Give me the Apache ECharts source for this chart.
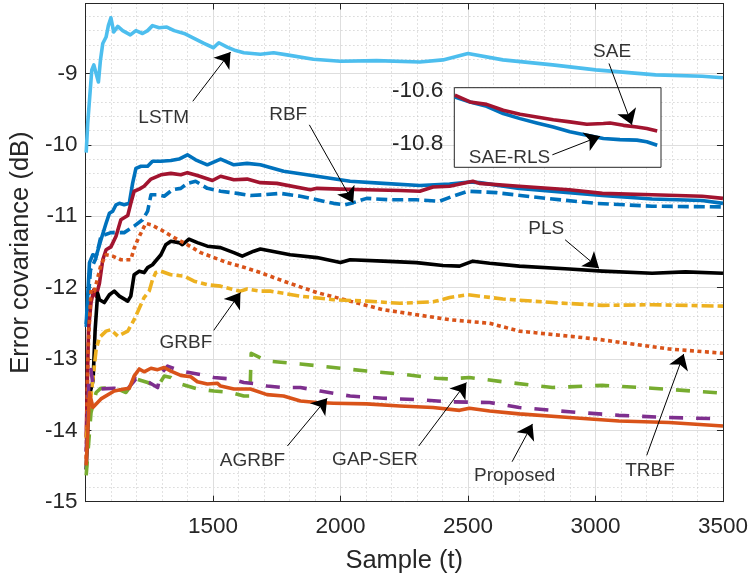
<!DOCTYPE html>
<html>
<head>
<meta charset="utf-8">
<script src="https://cdn.jsdelivr.net/npm/echarts@6/dist/echarts.min.js"></script>
<style>
html,body{margin:0;padding:0;background:#fff;}
#chart{width:751px;height:582px;}
</style>
</head>
<body>
<div id="chart"></div>
<script>
// ---------------- data (Sample t, Error covariance dB) ----------------
const xTicks = [1500, 2000, 2500, 3000, 3500];
const yTicks = [-15, -14, -13, -12, -11, -10, -9];
const insetYTicks = [-10.6, -10.8];

const seriesNames = ['LSTM', 'RBF', 'SAE-RLS', 'SAE', 'PLS', 'TRBF', 'GRBF', 'GAP-SER', 'AGRBF', 'Proposed'];

const LSTM = [[1003,-10.11],[1009,-9.7],[1016,-9.68],[1025,-8.95],[1033,-8.88],[1042,-9.0],[1051,-9.12],[1059,-8.81],[1068,-8.58],[1081,-8.49],[1090,-8.33],[1100,-8.22],[1111,-8.42],[1127,-8.34],[1146,-8.40],[1176,-8.46],[1198,-8.40],[1224,-8.44],[1244,-8.40],[1263,-8.33],[1289,-8.36],[1319,-8.35],[1348,-8.40],[1387,-8.44],[1426,-8.51],[1465,-8.58],[1502,-8.64],[1523,-8.57],[1556,-8.63],[1589,-8.68],[1621,-8.71],[1686,-8.73],[1738,-8.71],[1790,-8.74],[1894,-8.80],[2000,-8.83],[2142,-8.82],[2311,-8.84],[2402,-8.81],[2500,-8.72],[2637,-8.81],[2832,-8.88],[3001,-8.95],[3236,-9.02],[3418,-9.04],[3500,-9.06]];

const SAE_RLS = [[1003,-12.51],[1016,-11.65],[1029,-11.54],[1042,-11.56],[1061,-11.33],[1081,-11.10],[1094,-10.96],[1107,-10.93],[1120,-10.84],[1133,-10.82],[1152,-10.84],[1172,-10.82],[1185,-10.54],[1198,-10.33],[1218,-10.30],[1244,-10.30],[1263,-10.23],[1296,-10.23],[1335,-10.22],[1367,-10.20],[1400,-10.14],[1432,-10.21],[1478,-10.28],[1530,-10.20],[1582,-10.28],[1634,-10.26],[1686,-10.28],[1777,-10.37],[1908,-10.44],[2038,-10.51],[2168,-10.54],[2311,-10.57],[2428,-10.55],[2506,-10.52],[2545,-10.53],[2701,-10.61],[2897,-10.67],[3027,-10.71],[3222,-10.76],[3418,-10.78],[3500,-10.82]];

const SAE = [[1003,-14.1],[1012,-12.6],[1022,-12.21],[1033,-12.03],[1042,-12.12],[1055,-11.94],[1068,-11.61],[1081,-11.47],[1100,-11.43],[1120,-11.28],[1139,-11.05],[1166,-10.99],[1178,-10.82],[1191,-10.65],[1211,-10.62],[1230,-10.58],[1257,-10.48],[1296,-10.42],[1335,-10.40],[1374,-10.42],[1400,-10.39],[1439,-10.43],[1498,-10.50],[1530,-10.44],[1582,-10.49],[1634,-10.48],[1686,-10.53],[1751,-10.54],[1882,-10.63],[1908,-10.61],[2000,-10.62],[2103,-10.63],[2233,-10.64],[2311,-10.65],[2363,-10.59],[2428,-10.58],[2519,-10.51],[2545,-10.54],[2701,-10.58],[2897,-10.63],[3027,-10.68],[3222,-10.70],[3418,-10.72],[3500,-10.75]];

const RBF = [[1003,-12.55],[1020,-11.75],[1040,-11.6],[1061,-11.28],[1100,-11.23],[1152,-11.23],[1191,-11.14],[1224,-11.05],[1244,-10.93],[1257,-10.70],[1283,-10.70],[1309,-10.72],[1341,-10.63],[1374,-10.61],[1400,-10.54],[1432,-10.51],[1478,-10.61],[1530,-10.65],[1595,-10.68],[1647,-10.71],[1699,-10.70],[1764,-10.68],[1843,-10.72],[1908,-10.77],[1973,-10.82],[2018,-10.84],[2051,-10.81],[2103,-10.75],[2194,-10.77],[2298,-10.77],[2389,-10.79],[2441,-10.72],[2500,-10.65],[2611,-10.67],[2806,-10.75],[3001,-10.82],[3222,-10.86],[3500,-10.87]];

const PLS = [[1003,-14.55],[1010,-13.9],[1020,-13.45],[1030,-13.3],[1038,-12.6],[1048,-12.08],[1055,-12.17],[1074,-12.21],[1094,-12.10],[1113,-12.05],[1133,-12.12],[1166,-12.19],[1178,-12.12],[1191,-11.82],[1211,-11.77],[1230,-11.79],[1244,-11.72],[1263,-11.68],[1296,-11.54],[1315,-11.40],[1335,-11.35],[1367,-11.37],[1380,-11.40],[1406,-11.32],[1439,-11.37],[1478,-11.42],[1530,-11.44],[1582,-11.51],[1615,-11.56],[1660,-11.49],[1686,-11.46],[1803,-11.54],[1908,-11.58],[2000,-11.65],[2038,-11.61],[2168,-11.63],[2298,-11.65],[2402,-11.69],[2467,-11.70],[2519,-11.63],[2585,-11.66],[2701,-11.70],[2897,-11.74],[3027,-11.77],[3222,-11.80],[3353,-11.78],[3500,-11.80]];

const TRBF = [[1003,-14.4],[1010,-12.9],[1022,-12.03],[1035,-12.05],[1061,-11.68],[1081,-11.54],[1107,-11.56],[1139,-11.61],[1178,-11.61],[1191,-11.45],[1205,-11.33],[1224,-11.19],[1237,-11.10],[1257,-11.12],[1296,-11.19],[1348,-11.30],[1400,-11.40],[1452,-11.51],[1504,-11.58],[1556,-11.65],[1608,-11.70],[1686,-11.79],[1777,-11.91],[1908,-12.07],[2038,-12.19],[2168,-12.31],[2298,-12.38],[2428,-12.45],[2585,-12.50],[2701,-12.61],[3001,-12.72],[3288,-12.86],[3500,-12.92]];

const GRBF = [[1003,-14.12],[1035,-13.1],[1042,-12.87],[1055,-12.70],[1081,-12.61],[1100,-12.59],[1127,-12.68],[1166,-12.61],[1191,-12.45],[1230,-12.14],[1250,-12.05],[1263,-11.89],[1276,-11.79],[1296,-11.77],[1335,-11.82],[1387,-11.84],[1426,-11.91],[1478,-11.96],[1530,-11.98],[1582,-12.03],[1608,-12.05],[1634,-12.02],[1686,-12.05],[1725,-12.05],[1843,-12.12],[1973,-12.17],[2103,-12.19],[2233,-12.22],[2363,-12.20],[2428,-12.14],[2500,-12.10],[2637,-12.16],[2832,-12.21],[3027,-12.25],[3222,-12.24],[3500,-12.26]];

const GAP_SER = [[1003,-14.63],[1022,-13.75],[1042,-13.47],[1061,-13.41],[1113,-13.40],[1159,-13.47],[1198,-13.28],[1244,-13.33],[1283,-13.39],[1309,-13.24],[1335,-13.26],[1374,-13.35],[1439,-13.42],[1504,-13.45],[1569,-13.47],[1621,-13.52],[1645,-13.52],[1650,-12.92],[1712,-13.03],[1843,-13.07],[1973,-13.12],[2103,-13.17],[2233,-13.21],[2376,-13.27],[2428,-13.28],[2506,-13.26],[2637,-13.32],[2832,-13.40],[3027,-13.37],[3222,-13.41],[3500,-13.48]];

const AGRBF = [[1003,-14.3],[1015,-13.2],[1022,-13.15],[1030,-13.38],[1061,-13.42],[1113,-13.41],[1159,-13.45],[1198,-13.28],[1250,-13.33],[1283,-13.40],[1296,-13.21],[1322,-13.10],[1374,-13.17],[1439,-13.21],[1504,-13.26],[1569,-13.28],[1621,-13.33],[1673,-13.35],[1712,-13.38],[1777,-13.40],[1843,-13.40],[1921,-13.45],[2038,-13.52],[2168,-13.55],[2298,-13.57],[2428,-13.60],[2585,-13.61],[2701,-13.68],[2897,-13.74],[3092,-13.79],[3288,-13.82],[3500,-13.84]];

const PROPOSED = [[1003,-14.49],[1016,-13.47],[1029,-13.68],[1061,-13.56],[1113,-13.45],[1152,-13.42],[1172,-13.41],[1191,-13.24],[1211,-13.14],[1230,-13.18],[1257,-13.13],[1283,-13.15],[1309,-13.12],[1335,-13.17],[1374,-13.23],[1413,-13.25],[1439,-13.32],[1478,-13.35],[1517,-13.34],[1530,-13.38],[1582,-13.42],[1647,-13.42],[1712,-13.50],[1777,-13.52],[1843,-13.59],[1908,-13.61],[1973,-13.62],[2103,-13.63],[2233,-13.66],[2363,-13.68],[2467,-13.72],[2506,-13.69],[2585,-13.73],[2701,-13.77],[2897,-13.82],[3092,-13.87],[3288,-13.89],[3500,-13.94]];

// inset (zoom of SAE / SAE-RLS tail)
const INSET_SAE = [[2802,-10.618],[2854,-10.643],[2911,-10.652],[2968,-10.674],[3026,-10.689],[3083,-10.699],[3140,-10.709],[3197,-10.717],[3255,-10.726],[3312,-10.723],[3335,-10.721],[3381,-10.730],[3427,-10.736],[3461,-10.742],[3497,-10.751]];
const INSET_SAE_RLS = [[2802,-10.625],[2854,-10.643],[2911,-10.659],[2968,-10.686],[3026,-10.705],[3083,-10.721],[3140,-10.736],[3197,-10.754],[3255,-10.767],[3312,-10.779],[3369,-10.783],[3427,-10.785],[3461,-10.791],[3497,-10.804]];

// annotations (label text, label anchor, arrow tail, arrow tip) in data units
const annoText = ['LSTM', 'RBF', 'PLS', 'GRBF', 'AGRBF', 'GAP-SER', 'Proposed', 'TRBF'];
const annoAt   = [[1307,-9.62],[1795,-9.58],[2807,-11.17],[1394,-12.78],[1655,-14.43],[2135,-14.41],[2683,-14.63],[3214,-14.56]];
const annoFrom = [[1421,-9.39],[1878,-9.72],[2881,-11.33],[1503,-12.60],[1792,-14.22],[2307,-14.22],[2673,-14.44],[3201,-14.35]];
const annoTip  = [[1569,-8.70],[2050,-10.81],[3014,-11.73],[1608,-12.07],[1948,-13.55],[2494,-13.33],[2753,-13.91],[3346,-12.93]];
// annotations of the inset (drawn on the main axes)
const insetAnnoText = ['SAE', 'SAE-RLS'];
const insetAnnoAt   = [[3065,-8.69],[2663,-10.18]];
const insetAnnoFrom = [[3053,-8.86],[2831,-10.14]];
const insetAnnoTip  = [[3143,-9.72],[3018,-9.88]];

// ---------------- chart ----------------
const FONT = '"Liberation Sans", Arial, Helvetica, sans-serif';
const AX = '#262626';
const LW = 3.6;
const C = {blue:'#0072BD', orange:'#D95319', yellow:'#EDB120', purple:'#7E2F8E', green:'#77AC30', cyan:'#4DBEEE', red:'#A2142F', black:'#000000'};

function lineSeries(name, data, color, type, xi, yi, z) {
  return {
    name: name, type: 'line', data: data, xAxisIndex: xi || 0, yAxisIndex: yi || 0,
    showSymbol: false, symbol: 'none', animation: false, z: z || 3,
    lineStyle: {color: color, width: LW, type: type || 'solid', cap: 'butt', join: 'round'}
  };
}

const allText = annoText.concat(insetAnnoText);
const allAt = annoAt.concat(insetAnnoAt);
const allFrom = annoFrom.concat(insetAnnoFrom);
const allTip = annoTip.concat(insetAnnoTip);

const chart = echarts.init(document.getElementById('chart'), null, {renderer: 'canvas'});

const mainX = {
  type: 'value', gridIndex: 0, min: 1000, max: 3500, interval: 500,
  axisLine: {show: true, lineStyle: {color: AX, width: 1}},
  axisTick: {show: true, inside: true, length: 6, lineStyle: {color: AX}},
  axisLabel: {color: AX, fontSize: 22.5, fontFamily: FONT, margin: 14,
    formatter: v => (xTicks.indexOf(v) >= 0 ? String(v) : '')},
  splitLine: {show: true, lineStyle: {color: '#dedede', width: 1}},
  minorTick: {show: false, splitNumber: 5},
  minorSplitLine: {show: true, lineStyle: {color: '#c4c4c4', width: 1, type: [1, 3]}},
  name: 'Sample (t)', nameLocation: 'middle', nameGap: 46,
  nameTextStyle: {color: AX, fontSize: 25.5, fontFamily: FONT}
};
const topX = {
  type: 'value', gridIndex: 0, min: 1000, max: 3500, interval: 500, position: 'top',
  axisLine: {show: true, lineStyle: {color: AX, width: 1}},
  axisTick: {show: true, inside: true, length: 6, lineStyle: {color: AX}},
  axisLabel: {show: false}, splitLine: {show: false}
};
const mainY = {
  type: 'value', gridIndex: 0, min: -15, max: -8.02, interval: 1,
  axisLine: {show: true, lineStyle: {color: AX, width: 1}},
  axisTick: {show: true, inside: true, length: 6, lineStyle: {color: AX}},
  axisLabel: {color: AX, fontSize: 22.5, fontFamily: FONT, margin: 8,
    formatter: v => (yTicks.indexOf(v) >= 0 ? String(v) : '')},
  splitLine: {show: true, lineStyle: {color: '#dedede', width: 1}},
  minorTick: {show: false, splitNumber: 5},
  minorSplitLine: {show: true, lineStyle: {color: '#c4c4c4', width: 1, type: [1, 3]}},
  name: 'Error covariance (dB)', nameLocation: 'middle', nameGap: 47, nameRotate: 90,
  nameTextStyle: {color: AX, fontSize: 25.5, fontFamily: FONT}
};
const rightY = {
  type: 'value', gridIndex: 0, min: -15, max: -8.02, interval: 1, position: 'right',
  axisLine: {show: true, lineStyle: {color: AX, width: 1}},
  axisTick: {show: true, inside: true, length: 6, lineStyle: {color: AX},
    customValues: yTicks},
  axisLabel: {show: false}, splitLine: {show: false}
};
const insetX = {
  type: 'value', gridIndex: 1, min: 2800, max: 3510,
  show: true, axisLine: {show: false}, axisTick: {show: false}, axisLabel: {show: false},
  splitLine: {show: false}, z: 6
};
const insetY = {
  type: 'value', gridIndex: 1, min: -10.886, max: -10.59,
  axisLine: {show: false}, axisTick: {show: false},
  axisLabel: {show: true, color: AX, fontSize: 22.5, fontFamily: FONT, margin: 11,
    customValues: insetYTicks, formatter: v => v.toFixed(1)},
  splitLine: {show: false}, z: 6
};

const series = [
  lineSeries('LSTM', LSTM, C.cyan),
  lineSeries('RBF', RBF, C.blue, [11, 5]),
  lineSeries('SAE-RLS', SAE_RLS, C.blue),
  lineSeries('SAE', SAE, C.red),
  lineSeries('PLS', PLS, C.black),
  lineSeries('TRBF', TRBF, C.orange, [4, 3.5]),
  lineSeries('GRBF', GRBF, C.yellow, [12, 4, 6, 4]),
  lineSeries('GAP-SER', GAP_SER, C.green, [14, 13]),
  lineSeries('AGRBF', AGRBF, C.purple, [14, 13]),
  lineSeries('Proposed', PROPOSED, C.orange),
  lineSeries('SAE-RLS inset', INSET_SAE_RLS, C.blue, 'solid', 2, 2, 8),
  lineSeries('SAE inset', INSET_SAE, C.red, 'solid', 2, 2, 8),
  {
    name: 'arrows', type: 'lines', coordinateSystem: 'cartesian2d', xAxisIndex: 0, yAxisIndex: 0,
    z: 9, animation: false, silent: true,
    symbol: ['none', 'arrow'], symbolSize: [11, 15],
    lineStyle: {color: '#000', width: 1, opacity: 1, curveness: 0},
    data: allFrom.map((f, i) => ({coords: [f, allTip[i]]}))
  },
  {
    name: 'labels', type: 'scatter', xAxisIndex: 0, yAxisIndex: 0, z: 10,
    symbolSize: 0, animation: false, silent: true,
    label: {show: true, position: 'inside', color: '#000', fontSize: 19, fontFamily: FONT,
      formatter: p => p.data.name},
    data: allText.map((t, i) => ({name: t, value: allAt[i]}))
  }
];

chart.setOption({
  backgroundColor: '#ffffff',
  animation: false,
  grid: [
    {left: 84.3, right: 26.7, top: 3.5, bottom: 80.3, containLabel: false, show: false},
    {left: 454.3, top: 87.7, width: 206.7, height: 79.6, show: true, z: 5,
     backgroundColor: '#ffffff', borderColor: AX, borderWidth: 1}
  ],
  xAxis: [mainX, topX, insetX],
  yAxis: [mainY, rightY, insetY],
  series: series
});
</script>
</body>
</html>
